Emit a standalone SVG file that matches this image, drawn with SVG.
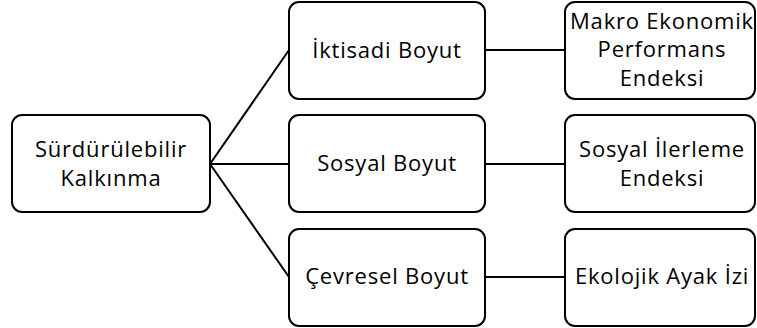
<svg xmlns="http://www.w3.org/2000/svg" width="757" height="328" viewBox="0 0 757 328">
<style>
.box{fill:#fff;stroke:#000;stroke-width:2}
.t{font-family:"Open Sans",Lato,sans-serif;font-size:22px;letter-spacing:0.8px;fill:#000;text-anchor:middle}
.c{stroke:#000;stroke-width:2;fill:none}
</style>
<rect width="757" height="328" fill="#fff"/>
<g id="connectors">
<line class="c" x1="210" y1="164" x2="289" y2="50"/>
<line class="c" x1="210" y1="164" x2="289" y2="164"/>
<line class="c" x1="210" y1="164" x2="289" y2="277"/>
<line class="c" x1="485" y1="50" x2="565" y2="50"/>
<line class="c" x1="485" y1="164" x2="565" y2="164"/>
<line class="c" x1="485" y1="277" x2="565" y2="277"/>
</g>
<g id="n0"><rect class="box" x="12" y="115" width="198" height="97" rx="10"/>
<text class="t" x="111" y="157">Sürdürülebilir</text><text class="t" x="111" y="186">Kalkınma</text></g>
<g id="n1"><rect class="box" x="289" y="2" width="196" height="97" rx="10"/>
<text class="t" x="387" y="58">İktisadi Boyut</text></g>
<g id="n2"><rect class="box" x="289" y="115" width="196" height="97" rx="10"/>
<text class="t" x="387" y="171">Sosyal Boyut</text></g>
<g id="n3"><rect class="box" x="289" y="229" width="196" height="97" rx="10"/>
<text class="t" x="387" y="284">Çevresel Boyut</text></g>
<g id="n4"><rect class="box" x="565" y="2" width="190" height="97" rx="10"/>
<text class="t" x="662" y="28.5">Makro Ekonomik</text><text class="t" x="662" y="57">Performans</text><text class="t" x="662" y="85.5">Endeksi</text></g>
<g id="n5"><rect class="box" x="565" y="115" width="190" height="97" rx="10"/>
<text class="t" x="662" y="157">Sosyal İlerleme</text><text class="t" x="662" y="186">Endeksi</text></g>
<g id="n6"><rect class="box" x="565" y="229" width="190" height="97" rx="10"/>
<text class="t" x="662" y="284">Ekolojik Ayak İzi</text></g>
</svg>
